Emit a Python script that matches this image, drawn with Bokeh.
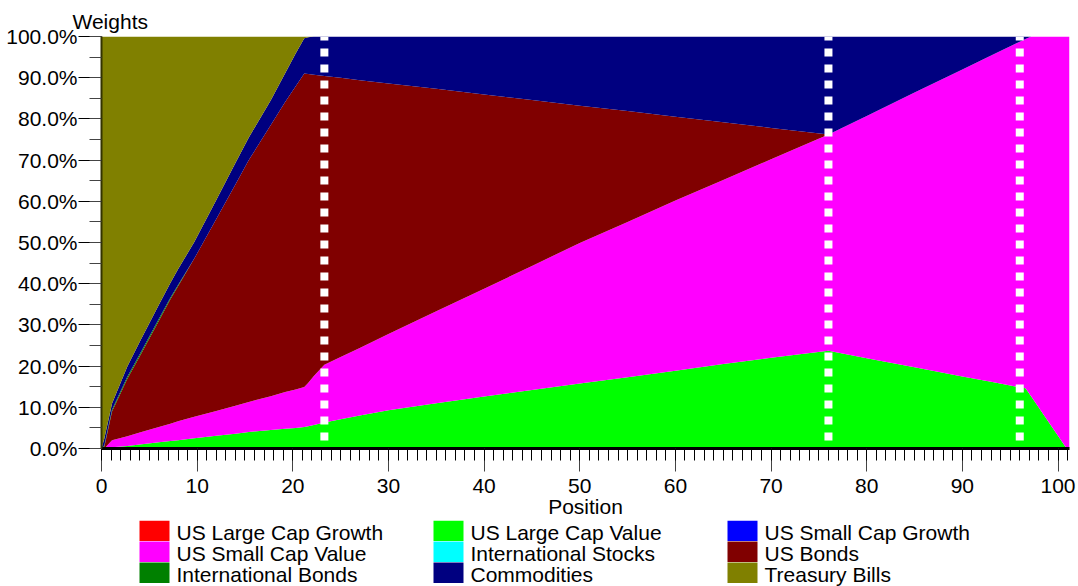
from bokeh.plotting import figure
from bokeh.models import (ColumnDataSource, Range1d, SingleIntervalTicker,
                          PrintfTickFormatter)
from bokeh.layouts import column
from bokeh.core.properties import value
from bokeh.embed import file_html
from bokeh.resources import INLINE

FONT = "Liberation Sans"

# ---------------- data (weights in %) ----------------
positions = [0, 0.3, 1.1, 2.7, 4, 6, 7.2, 8, 9.7, 12, 14, 15.4, 17.7, 19.2, 20.3,
             21.2, 21.6, 22.2, 23.3, 25, 27, 30, 35, 40, 45, 50, 55, 60, 65, 70,
             76, 80, 85, 90, 93, 96.6, 97.2, 100.9, 101.2]

us_large_cap_growth = [0, 0, 0, 0, 0, 0, 0, 0, 0, 0, 0, 0, 0, 0, 0, 0, 0, 0, 0, 0,
                       0, 0, 0, 0, 0, 0, 0, 0, 0, 0, 0, 0, 0, 0, 0, 0, 0, 0, 0]
us_large_cap_value = [0, 0, 0.3, 0.6, 1.0, 1.5, 1.8, 2.0, 2.5, 3.1, 3.6, 4.0, 4.5, 4.8,
                      5.0, 5.2, 5.4, 5.7, 6.3, 7.1, 8.0, 9.3, 11.0, 12.6, 14.2, 15.8,
                      17.3, 18.9, 20.5, 22.0, 23.7, 21.9, 19.7, 17.5, 16.2, 14.6, 12.6,
                      0, 0]
us_small_cap_growth = [0, 0, 0, 0, 0, 0, 0, 0, 0, 0, 0, 0, 0, 0, 0, 0, 0, 0, 0, 0,
                       0, 0, 0, 0, 0, 0, 0, 0, 0, 0, 0, 0, 0, 0, 0, 0, 0, 0, 0]
us_small_cap_value = [0, 0, 1.7, 2.4, 2.9, 3.7, 4.2, 4.6, 5.2, 6.0, 6.8, 7.3, 8.2, 8.9,
                      9.3, 9.7, 10.5, 11.9, 14.0, 15.1, 16.4, 18.5, 22.3, 26.2, 30.1,
                      34.1, 37.7, 41.3, 44.7, 48.2, 52.5, 58.8, 66.7, 74.5, 79.2, 84.8,
                      87.4, 100, 100]
international_stocks = [0, 0, 0, 0, 0, 0, 0, 0, 0, 0, 0, 0, 0, 0, 0, 0, 0, 0, 0, 0,
                        0, 0, 0, 0, 0, 0, 0, 0, 0, 0, 0, 0, 0, 0, 0, 0, 0, 0, 0]
us_bonds = [0, 0.5, 7.0, 13.9, 18.5, 25.8, 30.2, 32.8, 38.4, 46.6, 53.7, 58.7, 65.8,
            70.4, 73.6, 76.1, 75.0, 73.1, 70.1, 67.8, 65.0, 60.8, 54.0, 47.1, 40.3,
            33.3, 26.9, 20.3, 14.0, 7.6, 0, 0, 0, 0, 0, 0, 0, 0, 0]
international_bonds = [0, 0.3, 0.4, 0.5, 0.5, 0.5, 0.4, 0.3, 0, 0, 0, 0, 0, 0, 0, 0, 0,
                       0, 0, 0, 0, 0, 0, 0, 0, 0, 0, 0, 0, 0, 0, 0, 0, 0, 0, 0, 0, 0, 0]
commodities = [0, 1.7, 1.5, 2.5, 3.0, 3.4, 3.6, 3.8, 4.0, 4.6, 5.2, 5.5, 6.0, 7.0, 8.0,
               8.6, 8.9, 9.3, 9.6, 10.0, 10.6, 11.4, 12.7, 14.1, 15.4, 16.8, 18.1,
               19.5, 20.8, 22.2, 23.8, 19.3, 13.6, 8.0, 4.6, 0.6, 0, 0, 0]
treasury_bills = [100, 97.5, 89.1, 80.1, 74.1, 65.1, 59.8, 56.5, 49.9, 39.7, 30.7,
                  24.5, 15.5, 8.9, 4.1, 0.4, 0.2, 0, 0, 0, 0, 0, 0, 0, 0, 0, 0, 0, 0,
                  0, 0, 0, 0, 0, 0, 0, 0, 0, 0]

asset_names = ["US Large Cap Growth", "US Large Cap Value", "US Small Cap Growth",
               "US Small Cap Value", "International Stocks", "US Bonds",
               "International Bonds", "Commodities", "Treasury Bills"]
asset_keys = ["lcg", "lcv", "scg", "scv", "intl_stocks", "us_bonds", "intl_bonds",
              "commodities", "tbills"]
asset_colors = ["#FF0000", "#00FF00", "#0000FF", "#FF00FF", "#00FFFF", "#800000",
                "#008000", "#000080", "#808000"]
marker_positions = [23.3, 76, 96]

x_ticks_major = 10
y_ticks_major = 10

# ---------------- main chart ----------------
series = [us_large_cap_growth, us_large_cap_value, us_small_cap_growth,
          us_small_cap_value, international_stocks, us_bonds, international_bonds,
          commodities, treasury_bills]
data = {"x": positions}
for k, s in zip(asset_keys, series):
    data[k] = s
source = ColumnDataSource(data)

BORDER_L, BORDER_R = 101, 9
W = 1078
p = figure(width=W, height=520, output_backend="svg", toolbar_location=None,
           x_range=Range1d(0, positions[-1]), y_range=Range1d(0, 100),
           min_border_left=BORDER_L, min_border_right=BORDER_R, min_border_top=36,
           min_border_bottom=70)
p.background_fill_color = "white"
p.border_fill_color = "white"
p.outline_line_color = None
p.xgrid.grid_line_color = None
p.ygrid.grid_line_color = None

p.title.text = "Weights"
p.title.align = "left"
p.title.offset = -29
p.title.standoff = 8
p.title.text_font = FONT
p.title.text_font_size = "21px"
p.title.text_font_style = "normal"
p.title.text_color = "black"

p.varea_stack(stackers=asset_keys, x="x", color=asset_colors, source=source)

p.segment(x0=marker_positions, y0=[100] * len(marker_positions),
          x1=marker_positions, y1=[0] * len(marker_positions),
          line_color="white", line_width=8, line_dash="8 8", line_dash_offset=4)

xa = p.xaxis[0]
xa.ticker = SingleIntervalTicker(interval=x_ticks_major, num_minor_ticks=10)
xa.axis_label = "Position"
xa.axis_label_text_font = FONT
xa.axis_label_text_font_size = "21px"
xa.axis_label_text_font_style = "normal"
xa.axis_label_text_color = "black"
xa.axis_label_standoff = -1
xa.major_label_text_font = FONT
xa.major_label_text_font_size = "21px"
xa.major_label_text_color = "black"
xa.major_label_standoff = 7
xa.axis_line_color = "black"
xa.axis_line_width = 3
xa.major_tick_out = 23
xa.major_tick_in = 0
xa.minor_tick_out = 12
xa.minor_tick_in = 0
xa.major_tick_line_color = "#444444"
xa.minor_tick_line_color = "black"

ya = p.yaxis[0]
ya.ticker = SingleIntervalTicker(interval=y_ticks_major, num_minor_ticks=2)
ya.formatter = PrintfTickFormatter(format="%.1f%%")
ya.major_label_text_font = FONT
ya.major_label_text_font_size = "21px"
ya.major_label_text_color = "black"
ya.major_label_standoff = 1
ya.axis_line_color = "#333300"
ya.axis_line_width = 2
ya.major_tick_out = 23
ya.major_tick_in = 0
ya.minor_tick_out = 12
ya.minor_tick_in = 0
ya.major_tick_line_color = "black"
ya.minor_tick_line_color = "#444444"

# ---------------- legend (3 x 3 grid, row-major), canvas-pixel coordinates ----------------
leg_h = 66
leg = figure(width=W, height=leg_h, output_backend="svg", toolbar_location=None,
             x_range=Range1d(BORDER_L, W - BORDER_R), y_range=Range1d(leg_h, 0),
             x_axis_location=None, y_axis_location=None,
             min_border_left=BORDER_L, min_border_right=BORDER_R,
             min_border_top=0, min_border_bottom=0)
leg.outline_line_color = None
leg.xgrid.grid_line_color = None
leg.ygrid.grid_line_color = None
leg.background_fill_color = "white"
leg.border_fill_color = "white"

col_pitch, row_pitch, first_left = 294, 21, 139
sw_w, sw_h, gap = 30, 20.5, 7
cols = [i % 3 for i in range(len(asset_names))]
rows = [i // 3 for i in range(len(asset_names))]
lefts = [first_left + c * col_pitch for c in cols]
tops = [r * row_pitch for r in rows]
leg.quad(left=lefts, right=[l + sw_w for l in lefts], top=tops,
         bottom=[t + sw_h for t in tops], fill_color=asset_colors, line_color=None)
leg.text(x=[l + sw_w + gap for l in lefts], y=[t + 11.5 for t in tops], text=asset_names,
         text_baseline="middle", text_align="left", text_font=value(FONT),
         text_font_size="21px", text_color="black")

layout = column(p, leg, spacing=0)
open("out.html", "w").write(file_html(layout, INLINE))
